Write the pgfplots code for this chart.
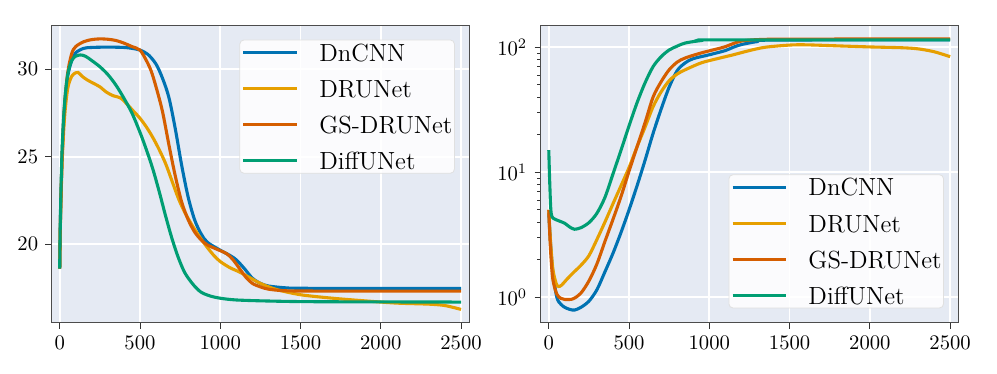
\documentclass[border=0pt]{standalone}
\usepackage{pgfplots}
\pgfplotsset{compat=1.18}

\definecolor{cBlue}{HTML}{0072B2}
\definecolor{cYellow}{HTML}{E69F00}
\definecolor{cRed}{HTML}{D55E00}
\definecolor{cGreen}{HTML}{009E73}
\definecolor{bgcol}{HTML}{E5EAF3}

\pgfplotsset{
  panel/.style={
    scale only axis, width=202pt, height=143.6pt,
    xmin=-50, xmax=2550, xtick={0,500,...,2500},
    /pgf/number format/set thousands separator={},
    axis background/.style={fill=bgcol},
    grid=major, major grid style={white, line width=0.8pt},
    tick pos=left, tick align=outside,
    major tick length=3pt, minor tick length=1.8pt,
    axis line style={black!70},
    every tick/.style={black!80},
    scaled ticks=false,
    legend cell align=left,
    legend style={font=\large, fill=white, fill opacity=0.85, text opacity=1,
      draw=black!12, rounded corners=2pt, inner xsep=1pt, inner ysep=1.75pt,
      nodes={inner sep=0pt, text height=8.5pt, text depth=0pt},
      row sep=9pt,
      /tikz/every odd column/.append style={column sep=10pt}},
    legend image code/.code={\draw[#1] (2pt,0pt) -- (28pt,0pt);},
    every axis plot/.append style={line width=1.5pt, smooth, tension=0.5},
  }
}

\begin{document}
\begin{tikzpicture}
\path[use as bounding box] (-25pt,-25pt) rectangle (457.5pt,156pt);

\begin{axis}[panel, at={(0pt,0pt)}, anchor=south west,
  ymin=15.52, ymax=32.5, ytick={20,25,30},
  legend style={at={(0.966,0.953)}, anchor=north east}]
\addplot[cBlue] coordinates {
 (0,18.6) (5,21.5) (15,25.0) (30,27.8) (50,29.6) (75,30.5) (100,30.95) (150,31.2)
 (200,31.25) (300,31.27) (400,31.25) (450,31.2) (500,31.1) (550,30.85) (600,30.3)
 (640,29.5) (680,28.4) (720,26.6) (760,24.5) (800,22.7) (840,21.4) (880,20.6)
 (920,20.1) (1000,19.65) (1060,19.35) (1100,19.1) (1150,18.6) (1200,18.05)
 (1250,17.75) (1300,17.6) (1400,17.5) (1500,17.47) (2000,17.46) (2500,17.46)
};
\addlegendentry{DnCNN}
\addplot[cYellow] coordinates {
 (0,18.6) (5,21.3) (15,24.6) (30,27.2) (50,28.9) (75,29.6) (100,29.8) (115,29.82)
 (140,29.6) (170,29.4) (210,29.2) (250,29.0) (290,28.7) (330,28.5) (380,28.35)
 (420,28.0) (460,27.6) (500,27.2) (540,26.7) (580,26.1) (620,25.4) (660,24.6)
 (700,23.6) (740,22.6) (780,21.8) (830,21.0) (880,20.3) (920,19.8) (960,19.35)
 (1000,19.0) (1060,18.65) (1120,18.4) (1180,18.1) (1250,17.75) (1350,17.4)
 (1500,17.1) (1700,16.9) (1900,16.75) (2100,16.62) (2300,16.56) (2400,16.48) (2500,16.26)
};
\addlegendentry{DRUNet}
\addplot[cRed] coordinates {
 (0,18.6) (5,21.5) (15,25.0) (30,27.9) (50,29.8) (75,30.9) (100,31.3) (150,31.58)
 (200,31.7) (250,31.74) (300,31.72) (350,31.65) (400,31.5) (450,31.3) (500,31.1)
 (540,30.5) (570,29.9) (600,29.0) (640,27.6) (680,25.7) (720,23.9) (760,22.4)
 (800,21.4) (840,20.7) (880,20.25) (920,19.95) (980,19.7) (1040,19.45) (1080,19.1)
 (1120,18.6) (1160,18.1) (1200,17.75) (1250,17.55) (1300,17.42) (1400,17.33)
 (1600,17.31) (2500,17.31)
};
\addlegendentry{GS-DRUNet}
\addplot[cGreen] coordinates {
 (0,18.6) (5,21.8) (15,25.4) (30,28.0) (50,29.7) (75,30.5) (100,30.75) (130,30.82)
 (160,30.75) (200,30.5) (250,30.15) (300,29.7) (350,29.1) (400,28.35) (450,27.5)
 (500,26.4) (540,25.4) (580,24.3) (620,23.0) (660,21.6) (700,20.3) (740,19.2)
 (780,18.35) (830,17.7) (880,17.25) (940,17.02) (1000,16.9) (1100,16.8)
 (1300,16.74) (1600,16.7) (2500,16.68)
};
\addlegendentry{DiffUNet}
\end{axis}

\begin{axis}[panel, at={(236.7pt,0pt)}, anchor=south west,
  ymode=log, ymin=0.63, ymax=148.8, ytick={1,10,100},
  legend style={at={(0.966,0.047)}, anchor=south east}]
\addplot[cBlue] coordinates {
 (0,4.7) (10,2.8) (25,1.6) (50,1.0) (75,0.88) (100,0.83) (130,0.80) (160,0.79)
 (200,0.83) (250,0.93) (300,1.15) (350,1.6) (400,2.25) (450,3.3) (500,5.0)
 (550,7.8) (600,12.5) (650,20.5) (700,32) (750,48) (800,65) (850,75) (900,81)
 (1000,87) (1100,94) (1150,100) (1200,105) (1300,111) (1400,114) (2500,114.5)
};
\addlegendentry{DnCNN}
\addplot[cYellow] coordinates {
 (0,5.0) (10,2.9) (25,1.7) (45,1.3) (60,1.22) (80,1.25) (110,1.38) (150,1.56)
 (200,1.8) (250,2.15) (300,2.9) (350,4.0) (400,5.6) (450,7.8) (500,10.9)
 (550,16) (600,23) (650,33.5) (700,44) (750,54) (800,61) (850,66) (950,75)
 (1050,81) (1150,87) (1250,94) (1350,100) (1500,104) (1600,104.5) (1800,102.5)
 (2000,100.5) (2200,99) (2300,97) (2400,92) (2500,84)
};
\addlegendentry{DRUNet}
\addplot[cRed] coordinates {
 (0,5.0) (10,2.5) (25,1.4) (50,1.06) (75,0.98) (100,0.96) (150,0.97) (200,1.08)
 (250,1.35) (300,1.85) (350,2.8) (400,4.2) (450,6.4) (500,10.2) (550,16)
 (600,25) (650,40) (700,53) (750,66) (800,76) (850,82) (950,90) (1050,97)
 (1100,101) (1150,107) (1200,112) (1300,115) (1500,116) (2500,116.5)
};
\addlegendentry{GS-DRUNet}
\addplot[cGreen] coordinates {
 (0,15) (5,9) (12,5.2) (20,4.4) (40,4.2) (70,4.05) (100,3.9) (130,3.65) (160,3.5)
 (200,3.6) (250,3.95) (300,4.7) (350,6.3) (400,9.7) (450,15) (500,23.5) (550,36)
 (600,52) (650,70) (700,84) (750,95) (800,102) (850,108) (950,113) (1050,114.5)
 (2500,114.5)
};
\addlegendentry{DiffUNet}
\end{axis}
\end{tikzpicture}
\end{document}
